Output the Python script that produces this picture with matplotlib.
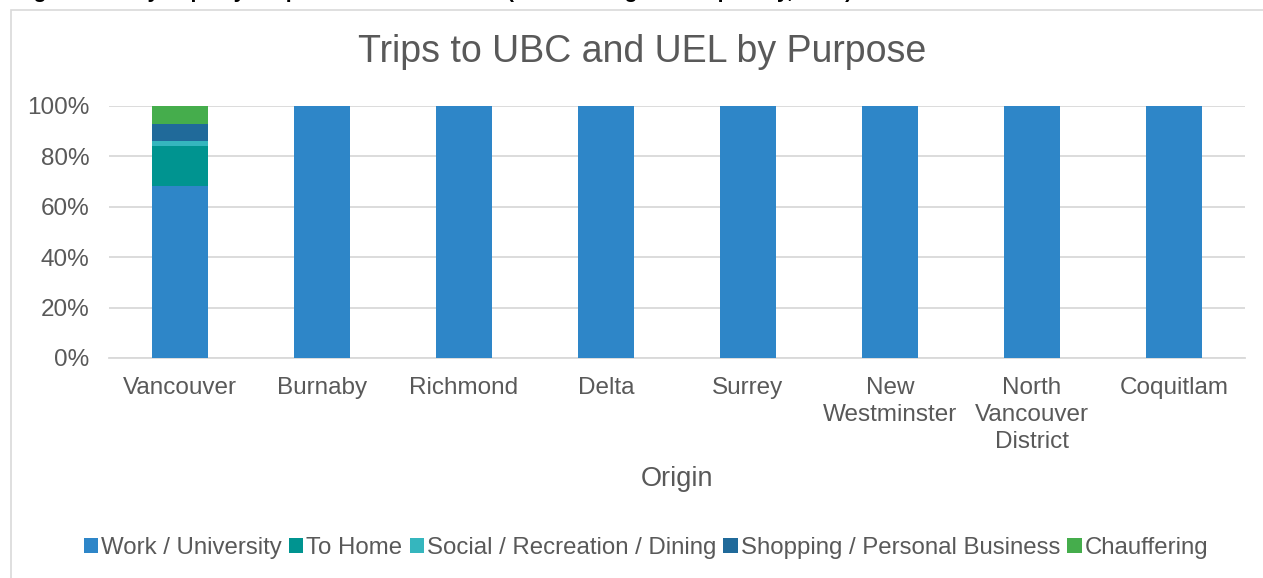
import matplotlib.pyplot as plt
from matplotlib.patches import Rectangle
import numpy as np

plt.rcParams['font.family'] = ['Liberation Sans', 'DejaVu Sans']

origins = ['Vancouver', 'Burnaby', 'Richmond', 'Delta', 'Surrey',
           'New\nWestminster', 'North\nVancouver\nDistrict', 'Coquitlam']
purposes = ['Work / University', 'To Home', 'Social / Recreation / Dining',
            'Shopping / Personal Business', 'Chauffering']

work = [0.681, 1, 1, 1, 1, 1, 1, 1]
to_home = [0.159, 0, 0, 0, 0, 0, 0, 0]
social = [0.020, 0, 0, 0, 0, 0, 0, 0]
shopping = [0.067, 0, 0, 0, 0, 0, 0, 0]
chauffering = [0.073, 0, 0, 0, 0, 0, 0, 0]

colors = ['#2E86C8', '#009490', '#35B6BE', '#206A9A', '#45AD4C']
txt = '#595959'
grid = '#D9D9D9'

W, H = 1263, 578
fig = plt.figure(figsize=(W / 100, H / 100), dpi=100)

# chart area border (cut off on the right and bottom)
fig.patches.append(Rectangle((10.5 / W, -0.1), 1.2, 1 - 9.5 / H + 0.1,
                             transform=fig.transFigure, fill=False,
                             edgecolor=grid, linewidth=1.2))

# caption above the chart, only its descenders are visible
fig.text(0.012, 1 + 1.5 / H,
         'Figure 4: Daily Trips by Purpose to UBC and UEL (Source: Regional Trip Diary, 2017)',
         fontsize=15, fontweight='bold', color='black', ha='left', va='baseline')

ax = fig.add_axes([109 / W, 1 - 358 / H, (1245 - 109) / W, (358 - 106) / H])

x = np.arange(len(origins))
bottom = np.zeros(len(origins))
for vals, name, c in zip([work, to_home, social, shopping, chauffering], purposes, colors):
    ax.bar(x, vals, 0.4, bottom=bottom, color=c, label=name, zorder=3)
    bottom += np.array(vals)

ax.set_xlim(-0.5, len(origins) - 0.5)
ax.set_ylim(0, 1)
ax.set_yticks(np.arange(0, 1.01, 0.2))
ax.set_yticklabels(['%d%%' % round(v * 100) for v in np.arange(0, 1.01, 0.2)])
ax.set_xticks(x)
ax.set_xticklabels(origins, linespacing=1.28)
ax.tick_params(axis='both', length=0, labelsize=17.5, labelcolor=txt)
ax.tick_params(axis='x', pad=14)
ax.tick_params(axis='y', pad=14)
ax.yaxis.grid(True, color=grid, linewidth=1.3, zorder=0)
for s in ['top', 'right', 'left']:
    ax.spines[s].set_visible(False)
ax.spines['bottom'].set_color(grid)
ax.spines['bottom'].set_linewidth(1.3)

fig.text(677 / W, 1 - 479 / H, 'Origin', fontsize=19.5, color=txt,
         ha='center', va='center')

fig.text(642 / W, 1 - 52 / H, 'Trips to UBC and UEL by Purpose',
         fontsize=27, color=txt, ha='center', va='center')

fig.legend(loc='center', bbox_to_anchor=(646 / W, 1 - 548 / H), ncol=5,
           frameon=False, fontsize=17.3, labelcolor=txt,
           handlelength=0.6, handleheight=0.6, handletextpad=0.12,
           columnspacing=0.3)

fig.savefig('out.png', dpi=100)
